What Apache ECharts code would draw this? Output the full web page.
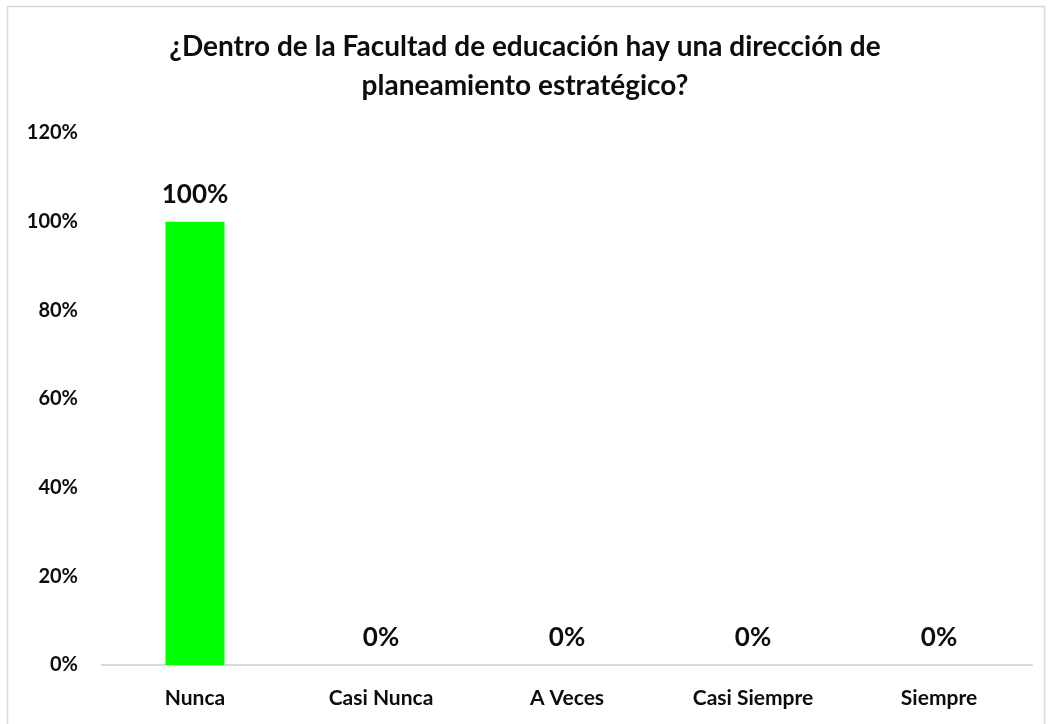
<!DOCTYPE html>
<html>
<head>
<meta charset="utf-8">
<script src="https://cdn.jsdelivr.net/npm/echarts@6/dist/echarts.min.js"></script>
<style>
html,body{margin:0;padding:0;background:#fff;}
#chart{width:1050px;height:724px;}
</style>
</head>
<body>
<div id="chart"></div>
<script>
var categories = ['Nunca', 'Casi Nunca', 'A Veces', 'Casi Siempre', 'Siempre'];
var values = [1.00, 0, 0, 0, 0];
var titleText = '¿Dentro de la Facultad de educación hay una dirección de\nplaneamiento estratégico?';

var chart = echarts.init(document.getElementById('chart'));
var font = 'Lato, "Open Sans", sans-serif';
chart.setOption({
  animation: false,
  backgroundColor: '#fff',
  graphic: [{
    type: 'rect',
    shape: {x: 7.5, y: 6.5, width: 1037, height: 730},
    style: {fill: 'none', stroke: '#d9d9d9', lineWidth: 1.5},
    silent: true
  }],
  title: {
    text: titleText,
    left: 'center',
    top: 22,
    textStyle: {fontFamily: font, fontSize: 28, fontWeight: 'bold', color: '#0d0d0d', lineHeight: 39}
  },
  grid: {left: 102, right: 18, top: 133, bottom: 59},
  xAxis: {
    type: 'category',
    data: categories,
    axisLine: {lineStyle: {color: '#d9d9d9', width: 2}},
    axisTick: {show: false},
    axisLabel: {margin: 23, fontFamily: font, fontSize: 21, fontWeight: 'bold', color: '#0d0d0d'}
  },
  yAxis: {
    type: 'value',
    min: 0, max: 1.2, interval: 0.2,
    splitLine: {show: false},
    axisLine: {show: false},
    axisTick: {show: false},
    axisLabel: {
      margin: 24, fontFamily: font, fontSize: 20, fontWeight: 'bold', color: '#0d0d0d',
      formatter: function (v) { return Math.round(v * 100) + '%'; }
    }
  },
  series: [{
    type: 'bar',
    data: values,
    barWidth: 59,
    itemStyle: {color: '#00ff00'},
    label: {
      show: true, position: 'top', distance: 14,
      fontFamily: font, fontSize: 26, fontWeight: 'bold', color: '#0d0d0d',
      formatter: function (p) { return Math.round(p.value * 100) + '%'; }
    }
  }]
});
</script>
</body>
</html>
